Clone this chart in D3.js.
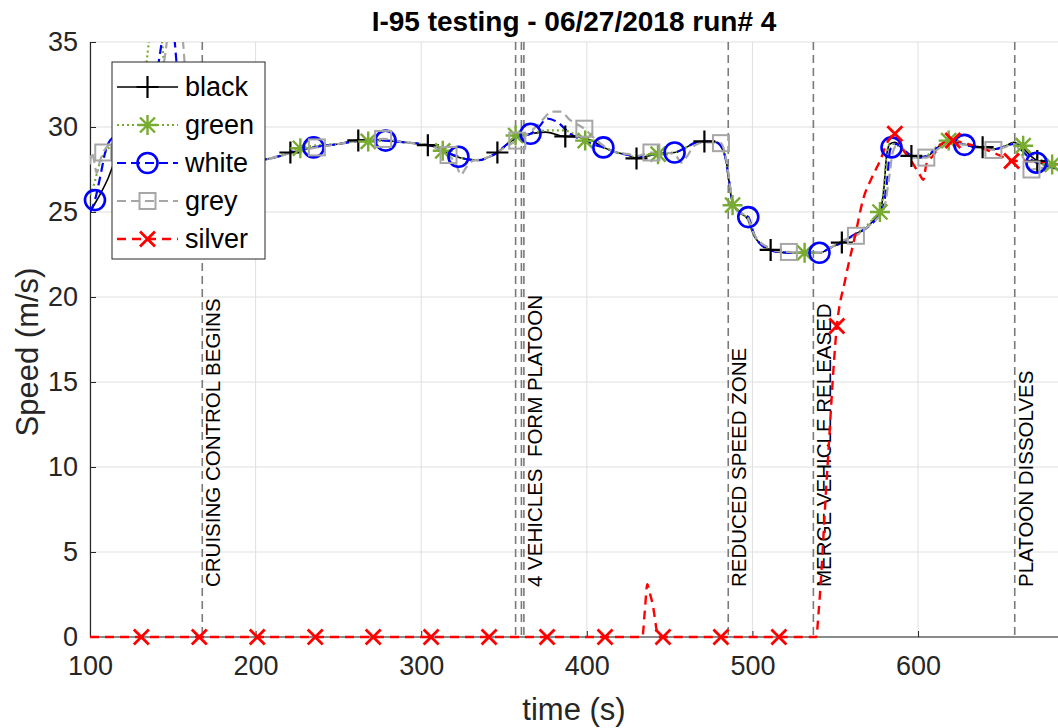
<!DOCTYPE html>
<html>
<head>
<meta charset="utf-8">
<script src="https://cdn.jsdelivr.net/npm/d3@7/dist/d3.min.js"></script>
<style>
  html, body { margin: 0; padding: 0; background: #fff; }
  svg { display: block; font-family: "Liberation Sans", Arial, Helvetica, sans-serif; }
</style>
</head>
<body>
<svg id="chart" width="1058" height="728"></svg>
<script>
// ---- speed traces: [time (s), speed (m/s)] ----
const blackData = [
  [100,25.0],[103,25.5],[107,26.2],[111,27.0],[115,28.0],[120,28.8],[128,29.3],[135,30.5],[140,32.0],[145,31.0],
  [150,29.0],[160,28.3],[175,28.0],[190,28.0],[206,28.1],[215,28.3],[221,28.5],[230,28.7],[240,28.9],[250,29.0],
  [260,29.2],[270,29.25],[280,29.2],[290,29.1],[300,29.0],[306,28.9],[313,28.6],[320,28.3],[328,28.1],[335,28.05],
  [340,28.2],[346,28.5],[352,29.0],[358,29.4],[366,29.6],[375,29.7],[386,29.45],[395,29.4],[403,29.2],[410,28.8],
  [418,28.5],[425,28.35],[430,28.15],[437,28.3],[445,28.45],[453,28.5],[460,28.8],[466,29.1],[471,29.15],[478,29.1],
  [482,28.7],[484.5,27.8],[486,26.7],[488,25.5],[492,25.0],[497,24.6],[501,23.6],[505,23.1],[510,22.8],[515,22.65],
  [525,22.6],[535,22.6],[541,22.6],[547,22.9],[554,23.2],[562,23.7],[568,24.0],[573,24.5],[577,25.0],[579.5,26.5],
  [581,28.3],[583,29.0],[586,29.1],[590,28.8],[596,28.3],[600,28.2],[605,28.25],[612,28.8],[618,29.2],[625,29.05],
  [632,28.9],[640,28.8],[646,28.7],[652,28.85],[658,29.1],[663,28.8],[668,28.3],[672,28.0],[678,27.7],[685,27.5]
];
const greenData = [
  [100,26.0],[102,26.5],[106,27.9],[110,28.6],[120,29.3],[128,30.5],[133,33.0],[136,35.5],[138,38.0],[140,38.5],
  [142,37.0],[144,34.5],[147,31.0],[152,29.0],[160,28.3],[175,28.0],[190,28.0],[206,28.1],[215,28.3],[227,28.75],
  [240,28.95],[250,29.0],[260,29.15],[268,29.15],[280,29.2],[290,29.1],[300,29.0],[306,28.9],[313,28.6],[320,28.3],
  [328,28.1],[335,28.05],[340,28.2],[346,28.5],[352,29.0],[357,29.5],[366,29.6],[375,29.8],[386,29.8],[392,29.6],
  [399,29.2],[410,28.8],[418,28.5],[425,28.35],[430,28.2],[437,28.35],[443,28.4],[453,28.5],[460,28.8],[466,29.1],
  [471,29.15],[478,29.1],[482,28.7],[484.5,27.7],[486,26.6],[488,25.4],[492,25.0],[497,24.6],[501,23.6],[505,23.1],
  [510,22.8],[515,22.65],[525,22.6],[531.5,22.6],[541,22.6],[547,22.9],[554,23.2],[562,23.7],[568,24.1],[573,24.6],
  [577,25.0],[579.5,26.6],[581,28.3],[583,29.0],[586,29.0],[590,28.7],[596,28.3],[600,28.2],[605,28.3],[612,28.9],
  [618.5,29.2],[625,29.05],[632,28.9],[640,28.8],[646,28.7],[652,28.85],[658,29.05],[663.5,28.9],[668,28.5],[672,28.2],
  [678,27.9],[681,27.8],[685,27.6]
];
const whiteData = [
  [100,25.0],[103,25.7],[106,27.0],[110,28.8],[115,29.5],[125,30.0],[135,31.0],[140,33.0],[144,35.5],[147,38.0],
  [149,37.5],[151,35.2],[154,32.0],[158,29.5],[165,28.4],[175,28.0],[190,28.0],[206,28.1],[215,28.3],[224,28.6],
  [235,28.8],[250,29.0],[260,29.15],[270,29.25],[278.5,29.2],[290,29.1],[300,29.0],[306,28.9],[313,28.6],[322.5,28.25],
  [328,28.1],[335,28.05],[340,28.2],[346,28.5],[352,29.0],[358,29.4],[366,29.6],[371,30.0],[376,30.5],[382,30.3],
  [390,29.6],[398,29.2],[403,29.0],[410,28.8],[418,28.5],[425,28.35],[430,28.2],[437,28.35],[445,28.45],[453,28.5],
  [460,28.8],[466,29.1],[471,29.15],[478,29.1],[482,28.7],[484.5,27.8],[486,26.8],[488,25.6],[492,25.0],[497.5,24.7],
  [501,23.7],[505,23.1],[510,22.8],[515,22.65],[525,22.6],[535,22.6],[540.5,22.6],[547,22.9],[554,23.2],[562,23.7],
  [568,24.0],[573,24.4],[577,24.9],[579,25.3],[581.5,27.0],[583,28.6],[584,28.8],[587,29.0],[591,28.7],[596,28.3],
  [600,28.2],[605,28.3],[612,28.8],[618,29.2],[623,29.1],[628,28.95],[634,28.85],[640,28.8],[646,28.7],[652,28.85],
  [658,29.0],[663,28.6],[668,28.1],[671.5,27.9],[678,27.7],[685,27.5]
];
const greyData = [
  [100,27.8],[101,28.5],[102.5,28.0],[104,27.3],[106,28.0],[108,28.5],[112,29.0],[120,29.3],[130,30.5],[140,32.5],
  [145,34.0],[147,35.5],[150,38.0],[153,38.0],[156,35.2],[159,31.5],[163,29.5],[170,28.5],[180,28.1],[195,28.0],
  [206,28.1],[215,28.3],[225,28.6],[237,28.8],[250,29.0],[260,29.15],[270,29.25],[277,29.3],[290,29.1],[300,29.0],
  [306,28.9],[312,28.6],[316.5,28.35],[321,27.8],[324,27.2],[327,27.6],[331,28.0],[336,28.1],[340,28.2],[346,28.5],
  [352,28.9],[358,29.2],[363,29.5],[367,29.8],[373,30.4],[379,30.9],[384,30.9],[390,30.4],[398.5,29.9],[405,29.3],
  [410,28.9],[418,28.5],[425,28.4],[430,28.3],[439,28.5],[446,28.5],[451,28.45],[454,28.3],[457,27.9],[460,28.2],
  [465,28.9],[471,29.1],[476,29.1],[481,29.05],[483,28.6],[485,27.6],[486.5,26.5],[488.5,25.4],[492,25.0],[497,24.7],
  [501,23.7],[505,23.2],[510,22.9],[515,22.7],[522,22.65],[530,22.6],[540,22.6],[547,22.9],[554,23.3],[562.5,23.6],
  [568,24.0],[573,24.4],[577,24.8],[580,25.4],[582.5,27.0],[585,28.6],[588,29.0],[592,28.6],[597,28.2],[605,28.2],
  [612,28.7],[618,29.1],[625,29.0],[632,28.9],[640,28.75],[645.5,28.65],[652,28.8],[658,29.0],[662,28.5],[665,27.9],
  [668.5,27.5],[675,27.6],[685,27.5]
];
const silverData = [
  [100,0],[200,0],[300,0],[400,0],[433.5,0],[435,1.5],[436.5,3.1],[438,2.6],[440,1.8],[442,0.5],
  [443,0],[480,0],[538.5,0],[540,1.5],[545,9.5],[551,18.3],[556,21.0],[562,23.6],[567,25.8],[572,27.0],
  [577,28.0],[582,29.2],[586,29.6],[590,28.8],[596,28.0],[601,27.2],[603.3,26.9],[605,27.8],[609,28.3],[614,29.0],
  [621,29.2],[630,29.0],[640,28.7],[650,28.3],[656.5,28.0],[665,28.0],[685,27.8]
];

// ---- marker times along each trace ----
const blackMarkT  = [221, 262, 304, 346, 387, 430, 471, 511, 554, 596, 639, 672];
const greenMarkT  = [227, 268, 313, 357, 399, 443, 488, 531.5, 577, 618.5, 663.5, 681];
const whiteMarkT  = [103, 235, 278.5, 322.5, 366, 410, 453, 497.5, 540.5, 584, 628, 671.5];
const greyMarkT   = [108, 237, 277, 316.5, 358, 398.5, 439, 481, 522, 562.5, 605, 645.5, 668.5];
const silverMarkT = [131, 166, 201, 236, 271, 306, 341, 376, 411, 446, 481, 516, 551, 586, 621, 656.5];

// ---- event lines ----
const eventTimes  = [167.8, 357, 360.5, 362, 485.4, 536.8, 658.4];
const eventLabels = [
  { t: 167.8, text: "CRUISING CONTROL BEGINS" },
  { t: 362,   text: "4 VEHICLES\u00A0\u00A0FORM PLATOON" },
  { t: 485.4, text: "REDUCED SPEED ZONE" },
  { t: 536.8, text: "MERGE VEHICLE RELEASED" },
  { t: 658.4, text: "PLATOON DISSOLVES" }
];

const xTicks = [100, 200, 300, 400, 500, 600];
const yTicks = [0, 5, 10, 15, 20, 25, 30, 35];
const titleText = "I-95 testing - 06/27/2018 run# 4";
const seriesNames = ["black", "green", "white", "grey", "silver"];

// ---- layout ----
const svg = d3.select("#chart");
const L = 90, R = 1058.8, T = 42, B = 637;
const x = d3.scaleLinear().domain([100, 685]).range([L, R]);
const y = d3.scaleLinear().domain([0, 35]).range([B, T]);
const axisColor = "#262626";

// grid
const grid = svg.append("g");
grid.selectAll(".gx").data(xTicks).join("line")
  .attr("x1", d => x(d)).attr("x2", d => x(d)).attr("y1", T).attr("y2", B)
  .attr("stroke", "#dfdfdf").attr("stroke-width", 1);
grid.selectAll(".gy").data(yTicks).join("line")
  .attr("x1", L).attr("x2", 1058).attr("y1", d => y(d)).attr("y2", d => y(d))
  .attr("stroke", "#dfdfdf").attr("stroke-width", 1);

// axes
const xAxis = d3.axisBottom(x).tickValues(xTicks).tickSize(-6).tickPadding(19).tickFormat(d3.format("d"));
const yAxis = d3.axisLeft(y).tickValues(yTicks).tickSize(-6).tickPadding(12).tickFormat(d3.format("d"));
const gx = svg.append("g").attr("transform", `translate(0,${B})`).call(xAxis);
const gy = svg.append("g").attr("transform", `translate(${L},0)`).call(yAxis);
[gx, gy].forEach(g => {
  g.select(".domain").attr("stroke", axisColor).attr("stroke-width", 1.2);
  g.selectAll(".tick line").attr("stroke", axisColor).attr("stroke-width", 1);
  g.selectAll(".tick text").attr("fill", axisColor)
    .style("font-family", "'Liberation Sans', Arial, sans-serif").style("font-size", "27px");
});
gx.select(".domain").attr("d", `M${L},0H1058`);
gx.selectAll(".tick text").attr("dy", "0.71em");

// event lines
svg.append("g").selectAll("line").data(eventTimes).join("line")
  .attr("x1", d => x(d)).attr("x2", d => x(d)).attr("y1", T).attr("y2", B)
  .attr("stroke", "#7a7a7a").attr("stroke-width", 1.6).attr("stroke-dasharray", "8,5");

svg.append("g").selectAll("text").data(eventLabels).join("text")
  .attr("transform", d => `translate(${x(d.t) + 18},587) rotate(-90)`)
  .attr("text-anchor", "start")
  .style("font-size", "20.5px").attr("fill", "#000")
  .text(d => d.text);

// traces
svg.append("clipPath").attr("id", "plotClip")
  .append("rect").attr("x", L).attr("y", T).attr("width", 1058 - L).attr("height", B - T + 8);

const styles = {
  black:  { data: blackData,  marks: blackMarkT,  color: "#000000", width: 1.6, dash: null,   marker: "plus" },
  green:  { data: greenData,  marks: greenMarkT,  color: "#77AC30", width: 2.2, dash: "2,3",  marker: "star" },
  white:  { data: whiteData,  marks: whiteMarkT,  color: "#0000FF", width: 2.2, dash: "9,5",  marker: "circle" },
  grey:   { data: greyData,   marks: greyMarkT,   color: "#A6A6A6", width: 2.2, dash: "9,5",  marker: "square" },
  silver: { data: silverData, marks: silverMarkT, color: "#FF0000", width: 2.4, dash: "9,6",  marker: "cross" }
};

const line = d3.line().x(d => x(d[0])).y(d => y(d[1])).curve(d3.curveMonotoneX);
const plot = svg.append("g").attr("clip-path", "url(#plotClip)");

function interp(data, t) {
  const i = d3.bisector(d => d[0]).left(data, t);
  if (i <= 0) return data[0][1];
  if (i >= data.length) return data[data.length - 1][1];
  const a = data[i - 1], b = data[i];
  return a[1] + (b[1] - a[1]) * (t - a[0]) / (b[0] - a[0]);
}

function drawMarker(g, type, cx, cy, color) {
  if (type === "plus") {
    g.append("path").attr("d", `M${cx - 11},${cy}H${cx + 11}M${cx},${cy - 11}V${cy + 11}`)
      .attr("stroke", color).attr("stroke-width", 2.2).attr("fill", "none");
  } else if (type === "star") {
    const r = 10, rd = 7.5;
    g.append("path").attr("d",
      `M${cx - r},${cy}H${cx + r}M${cx},${cy - r}V${cy + r}` +
      `M${cx - rd},${cy - rd}L${cx + rd},${cy + rd}M${cx - rd},${cy + rd}L${cx + rd},${cy - rd}`)
      .attr("stroke", color).attr("stroke-width", 2.4).attr("fill", "none");
  } else if (type === "circle") {
    g.append("circle").attr("cx", cx).attr("cy", cy).attr("r", 10)
      .attr("stroke", color).attr("stroke-width", 2.6).attr("fill", "none");
  } else if (type === "square") {
    g.append("rect").attr("x", cx - 8).attr("y", cy - 8).attr("width", 16).attr("height", 16)
      .attr("stroke", color).attr("stroke-width", 2).attr("fill", "none");
  } else if (type === "cross") {
    const r = 7.5;
    g.append("path").attr("d", `M${cx - r},${cy - r}L${cx + r},${cy + r}M${cx - r},${cy + r}L${cx + r},${cy - r}`)
      .attr("stroke", color).attr("stroke-width", 2.8).attr("fill", "none");
  }
}

seriesNames.forEach(name => {
  const s = styles[name];
  plot.append("path").datum(s.data)
    .attr("d", line).attr("fill", "none")
    .attr("stroke", s.color).attr("stroke-width", s.width)
    .attr("stroke-dasharray", s.dash);
});
const markG = svg.append("g");
seriesNames.forEach(name => {
  const s = styles[name];
  s.marks.forEach(t => drawMarker(markG, s.marker, x(t), y(interp(s.data, t)), s.color));
});

// title and axis labels
svg.append("text").attr("x", (L + 1058) / 2).attr("y", 31).attr("text-anchor", "middle")
  .style("font-size", "28px").style("font-weight", "bold").attr("fill", "#000").text(titleText);
svg.append("text").attr("x", (L + 1058) / 2).attr("y", 720).attr("text-anchor", "middle")
  .style("font-size", "31px").attr("fill", axisColor).text("time (s)");
svg.append("text").attr("transform", `translate(38,352) rotate(-90)`).attr("text-anchor", "middle")
  .style("font-size", "31px").attr("fill", axisColor).text("Speed (m/s)");

// legend
const lg = svg.append("g");
lg.append("rect").attr("x", 112).attr("y", 62).attr("width", 153).attr("height", 197)
  .attr("fill", "#fff").attr("stroke", axisColor).attr("stroke-width", 1);
seriesNames.forEach((name, i) => {
  const s = styles[name];
  const ly = 87 + i * 38;
  lg.append("line").attr("x1", 117).attr("x2", 178).attr("y1", ly).attr("y2", ly)
    .attr("stroke", s.color).attr("stroke-width", s.width).attr("stroke-dasharray", s.dash);
  drawMarker(lg, s.marker, 147.5, ly, s.color);
  lg.append("text").attr("x", 185).attr("y", ly + 9).style("font-size", "27px").attr("fill", "#000").text(name);
});
</script>
</body>
</html>
